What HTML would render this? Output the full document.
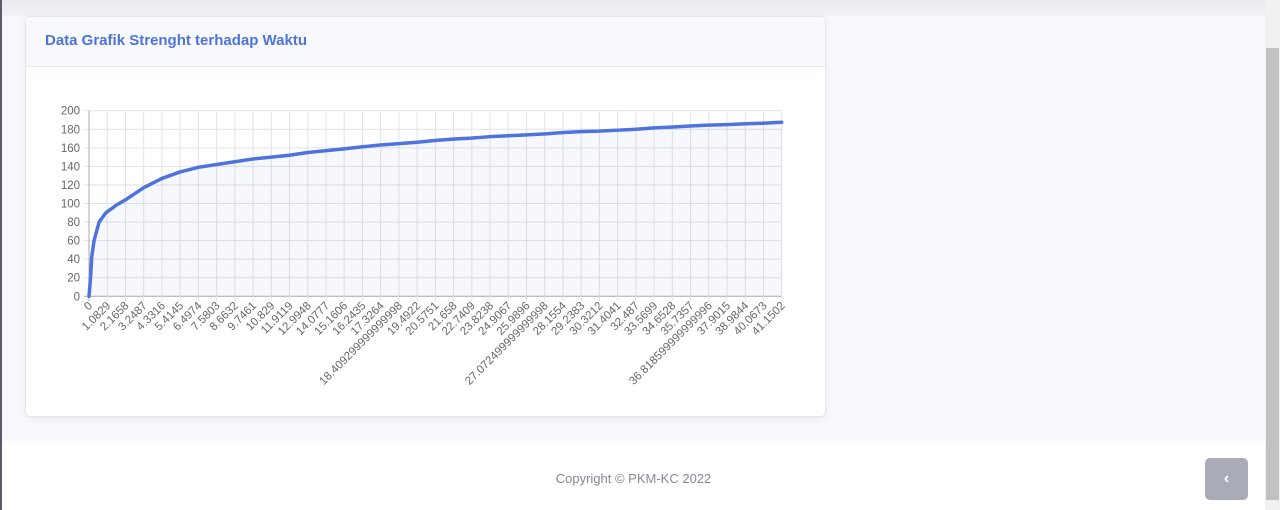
<!DOCTYPE html>
<html><head><meta charset="utf-8"><style>
*{box-sizing:border-box;margin:0;padding:0}
body{width:1280px;height:510px;overflow:hidden;background:#f8f9fc;font-family:"Liberation Sans",sans-serif;position:relative}
#topbar{position:absolute;left:0;top:0;width:1265px;height:16px;background:linear-gradient(#e8e9ed,#f1f2f5)}
#leftline{position:absolute;left:0;top:0;width:2px;height:510px;background:#5a5c69}
#card{position:absolute;left:25px;top:16px;width:801px;height:401px;background:#fff;border:1px solid #e3e6f0;border-radius:5px;box-shadow:0 2px 8px rgba(58,59,69,.08);overflow:hidden}
#card-header{height:50px;background:#f8f9fc;border-bottom:1px solid #e3e6f0;padding:15px 19px;color:#4e73df;font-weight:bold;font-size:15px}
#footer{position:absolute;left:2px;top:441px;width:1263px;height:69px;background:#fff;text-align:center;color:#858796;font-size:13px;padding-top:30px}
#scrolltop{position:absolute;left:1205px;top:458px;width:43px;height:42px;background:#a9abb6;border-radius:5px;color:#fff;font-size:16px;font-weight:bold;text-align:center;line-height:42px}
#sbtrack{position:absolute;left:1265px;top:0;width:15px;height:510px;background:#f1f1f1}
#sbthumb{position:absolute;left:1266px;top:48px;width:13px;height:452px;background:#c1c1c1}
svg{position:absolute;left:0;top:0}
</style></head><body>
<div id="topbar"></div>
<div id="leftline"></div>
<div id="card">
<div id="card-header">Data Grafik Strenght terhadap Waktu</div>
</div>
<svg id="chart" width="1280" height="510"></svg>
<div id="footer">Copyright © PKM-KC 2022</div>
<div id="scrolltop">&#8249;</div>
<div id="sbtrack"></div>
<div id="sbthumb"></div>
<script>
const tickLabels=["0","1.0829","2.1658","3.2487","4.3316","5.4145","6.4974","7.5803","8.6632","9.7461","10.829","11.9119","12.9948","14.0777","15.1606","16.2435","17.3264","18.409299999999998","19.4922","20.5751","21.658","22.7409","23.8238","24.9067","25.9896","27.072499999999998","28.1554","29.2383","30.3212","31.4041","32.487","33.5699","34.6528","35.7357","36.818599999999996","37.9015","38.9844","40.0673","41.1502"];
const timeValues=[0,0.1,0.16,0.3,0.6,1.0,1.6,2.17,3.25,4.33,5.41,6.5,7.58,8.66,9.75,10.83,11.9,13.0,14.1,15.2,16.2,17.3,18.4,19.5,20.6,21.7,22.7,23.8,24.9,26.0,27.1,28.2,29.2,30.3,31.4,32.5,33.6,34.7,35.7,36.8,37.9,39.0,40.0,41.15];
const strengthValues=[0,22,42,60,80,90,98,104,117,127,134,139,142,145,148,150,152,155,157,159,161,163,164.5,166,168,169.5,170.5,172,173,174,175,176.5,177.5,178,179,180,181.5,182.5,183.5,184.5,185,186,186.5,187.5];
const yTicks=[0,20,40,60,80,100,120,140,160,180,200];
const NS="http://www.w3.org/2000/svg";
const svg=document.getElementById('chart');
const X0=89,X1=781.7,Y0=296.3,Y1=110.7,XMAX=41.1502,YMAX=200;
function xs(v){return X0+(X1-X0)*v/XMAX}
function ys(v){return Y0-(Y0-Y1)*v/YMAX}
function mk(t,a){const e=document.createElementNS(NS,t);for(const k in a)e.setAttribute(k,a[k]);svg.appendChild(e);return e}
yTicks.forEach(v=>{
 const l=mk('line',{x1:84,x2:X1,y1:ys(v),y2:ys(v),stroke:v===0?'#aaa':'#e2e2e6','stroke-width':1});
 
 
 const t=mk('text',{x:80,y:ys(v)+4,'text-anchor':'end','font-size':11.5,fill:'#666','font-family':'Liberation Sans, sans-serif'});
 t.textContent=v;
 
 
});
tickLabels.forEach((s,i)=>{
 const x=X0+(X1-X0)*i/(tickLabels.length-1);
 const l=mk('line',{x1:x,x2:x,y1:Y1,y2:Y0+5,stroke:i===0?'#aaa':'#e2e2e6','stroke-width':1});
 
 
 const tx=x+4,ty=Y0+10;
 const t=mk('text',{x:tx,y:ty,'text-anchor':'end','font-size':11.5,fill:'#666','font-family':'Liberation Sans, sans-serif',transform:`rotate(-45 ${tx} ${ty})`});
 t.textContent=s;
 
 
});
let d='';timeValues.forEach((t,i)=>{d+=(i?'L':'M')+xs(t)+' '+ys(strengthValues[i])});
const area=mk('path',{d:d+`L${xs(timeValues[timeValues.length-1])} ${Y0}L${xs(0)} ${Y0}Z`,fill:'rgba(78,115,223,0.05)'});


const line=mk('path',{d:d,fill:'none',stroke:'#4e73df','stroke-width':3.5,'stroke-linejoin':'round','stroke-linecap':'round'});


</script>
</body></html>
